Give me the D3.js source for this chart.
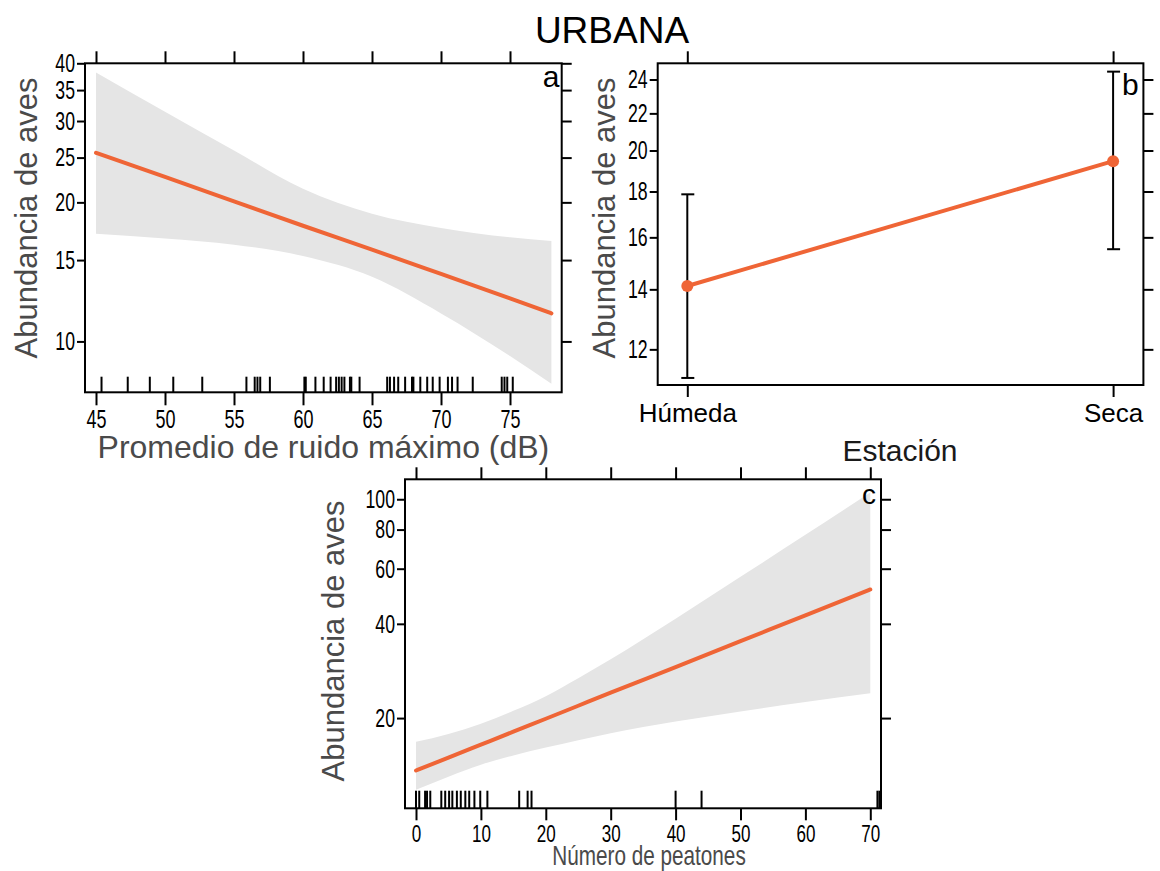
<!DOCTYPE html>
<html>
<head>
<meta charset="utf-8">
<script src="https://cdn.jsdelivr.net/npm/d3@7"></script>
<style>
  html, body { margin: 0; padding: 0; background: #fff; }
  svg { display: block; font-family: "Liberation Sans", Arial, sans-serif; }
</style>
</head>
<body>
<svg id="chart" width="1160" height="871"></svg>
<script>
// ---------------- DATA ----------------
// Panel a: abundance vs mean maximum noise (dB)
const noiseX     = [45, 50, 55, 60, 65, 70, 75, 78];
const noiseFit   = [25.6, 22.7, 20.1, 17.8, 15.8, 14.0, 12.4, 11.5];
const noiseUpper = [38.2, 31.4, 25.9, 21.4, 18.9, 17.6, 16.8, 16.5];
const noiseLower = [17.1, 16.7, 16.2, 15.3, 13.8, 11.5, 9.3, 8.1];
const noiseRug   = [45.4, 47.3, 48.9, 50.6, 52.7, 55.9, 56.5, 56.7, 56.9, 57.6,
                    60.1, 60.2, 60.9, 61.5, 62.0, 62.4, 62.6, 62.8, 63.0, 63.4, 63.5, 64.1,
                    66.1, 66.3, 66.6, 66.9, 67.4, 67.9, 68.0, 68.5, 69.0, 69.4, 69.9,
                    70.5, 70.8, 71.2, 72.3, 74.4, 74.6, 74.8, 75.2];
const noiseXTicks = [45, 50, 55, 60, 65, 70, 75];
const noiseYTicks = [10, 15, 20, 25, 30, 35, 40];

// Panel b: abundance by season
const seasons      = ["Húmeda", "Seca"];
const seasonFit    = [14.12, 19.46];
const seasonLower  = [11.15, 15.52];
const seasonUpper  = [17.87, 24.49];
const seasonYTicks = [12, 14, 16, 18, 20, 22, 24];

// Panel c: abundance vs number of pedestrians
const pedX      = [0, 5, 10, 15, 20, 25, 30, 40, 50, 60, 70];
const pedFit    = [13.6, 14.95, 16.45, 18.1, 19.9, 21.9, 24.1, 29.1, 35.2, 42.6, 51.5];
const pedUpper  = [16.8, 17.8, 19.2, 21.1, 23.5, 26.8, 30.8, 41.5, 56.5, 77, 105];
const pedLower  = [11.8, 13.0, 14.2, 15.2, 16.1, 17.0, 17.9, 19.5, 21.0, 22.5, 24.0];
const pedRug    = [0, 0.5, 1.4, 1.7, 2.2, 3.9, 4.5, 5.1, 5.6, 6.3, 6.9, 7.6, 8.2, 9.0, 9.9, 11.0,
                   15.9, 17.2, 17.8, 40, 44, 71.1, 71.4];
const pedXTicks = [0, 10, 20, 30, 40, 50, 60, 70];
const pedYTicks = [20, 40, 60, 80, 100];

// ---------------- STYLE ----------------
const ORANGE = "#EF6536";
const BAND = "#E5E5E5";
const TITLE_GRAY = "#4a4a4a";
const svg = d3.select("#chart");

function condense(sel, factor) {
  sel.each(function () {
    const w = this.getComputedTextLength();
    d3.select(this).attr("textLength", w * factor).attr("lengthAdjust", "spacingAndGlyphs");
  });
}

function styleAxis(g, fontSize, condenseFactor) {
  g.attr("font-size", fontSize).attr("font-family", "'Liberation Sans', Arial, sans-serif");
  g.select(".domain").remove();
  g.selectAll(".tick line").attr("stroke", "#000").attr("stroke-width", 2);
  g.selectAll(".tick text")
    .attr("fill", "#000")
    .style("font-size", fontSize + "px");
  if (condenseFactor) condense(g.selectAll(".tick text"), condenseFactor);
}

function drawFrame(box) {
  svg.append("rect")
    .attr("x", box.left).attr("y", box.top)
    .attr("width", box.right - box.left).attr("height", box.bottom - box.top)
    .attr("fill", "none").attr("stroke", "#000").attr("stroke-width", 2);
}

function axes(box, x, y, xTicks, yTicks, opts) {
  const gl = svg.append("g").attr("transform", `translate(${box.left},0)`)
    .call(d3.axisLeft(y).tickValues(yTicks).tickFormat(d3.format("d"))
      .tickSize(8).tickSizeOuter(0).tickPadding(2));
  styleAxis(gl, opts.yFont, 0.68);
  const gr = svg.append("g").attr("transform", `translate(${box.right},0)`)
    .call(d3.axisRight(y).tickValues(yTicks).tickFormat("").tickSize(10).tickSizeOuter(0));
  styleAxis(gr, 10);
  const gt = svg.append("g").attr("transform", `translate(0,${box.top})`)
    .call(d3.axisTop(x).tickValues(xTicks).tickFormat("").tickSize(12).tickSizeOuter(0));
  styleAxis(gt, 10);
  const gb = svg.append("g").attr("transform", `translate(0,${box.bottom})`)
    .call(d3.axisBottom(x).tickValues(xTicks).tickFormat(opts.xFormat || d3.format("d"))
      .tickSize(opts.bTick || 12).tickSizeOuter(0).tickPadding(opts.xPad || 7));
  styleAxis(gb, opts.xFont, opts.xCondense);
}

function band(x, y, xs, lo, hi) {
  const area = d3.area()
    .x((d, i) => x(xs[i])).y0((d, i) => y(lo[i])).y1((d, i) => y(hi[i]))
    .curve(d3.curveMonotoneX);
  svg.append("path").datum(xs).attr("d", area).attr("fill", BAND).attr("stroke", "none");
}

function fitLine(x, y, xs, ys) {
  const line = d3.line().x((d, i) => x(xs[i])).y((d, i) => y(ys[i])).curve(d3.curveMonotoneX);
  svg.append("path").datum(xs).attr("d", line)
    .attr("fill", "none").attr("stroke", ORANGE).attr("stroke-width", 4).attr("stroke-linecap", "round");
}

function rug(x, box, vals, h) {
  svg.append("g").selectAll("line").data(vals).join("line")
    .attr("x1", d => x(d)).attr("x2", d => x(d))
    .attr("y1", box.bottom - h).attr("y2", box.bottom)
    .attr("stroke", "#000").attr("stroke-width", 2);
}

function yTitle(xBase, yCenter) {
  svg.append("text")
    .attr("transform", `translate(${xBase},${yCenter}) rotate(-90)`)
    .attr("text-anchor", "middle")
    .attr("fill", TITLE_GRAY)
    .style("font-size", "31px")
    .text("Abundancia de aves");
}

function panelLabel(txt, xEnd, yBase, size) {
  svg.append("text").attr("x", xEnd).attr("y", yBase).attr("text-anchor", "end")
    .attr("fill", "#000").style("font-size", size + "px").text(txt);
}

// ---------------- TITLE ----------------
svg.append("text").attr("x", 612).attr("y", 42.7).attr("text-anchor", "middle")
  .attr("fill", "#000").style("font-size", "37px").text("URBANA");

// ---------------- PANEL A ----------------
{
  const box = { left: 85, right: 561.7, top: 63.3, bottom: 392.3 };
  const x = d3.scaleLinear().domain([44.203, 78.746]).range([box.left, box.right]);
  const y = d3.scaleLog().domain([7.76, 40]).range([box.bottom, box.top]);
  band(x, y, noiseX, noiseLower, noiseUpper);
  fitLine(x, y, noiseX, noiseFit);
  rug(x, box, noiseRug, 15.6);
  drawFrame(box);
  axes(box, x, y, noiseXTicks, noiseYTicks, { yFont: 26, xFont: 25, xCondense: 0.72, bTick: 13, xPad: 5 });
  yTitle(37, 218);
  svg.append("text").attr("x", 323.4).attr("y", 458).attr("text-anchor", "middle")
    .attr("fill", TITLE_GRAY).style("font-size", "32px").text("Promedio de ruido máximo (dB)");
  panelLabel("a", 559.5, 86.5, 30);
}

// ---------------- PANEL B ----------------
{
  const box = { left: 657.7, right: 1143.4, top: 63.3, bottom: 385 };
  const x = d3.scalePoint().domain(seasons).range([687.3, 1113.1]);
  const y = d3.scaleLog().domain([10.95, 25.02]).range([box.bottom, box.top]);
  const pts = seasons.map((s, i) => ({ s, fit: seasonFit[i], lo: seasonLower[i], hi: seasonUpper[i] }));
  svg.append("path").datum(pts)
    .attr("d", d3.line().x(d => x(d.s)).y(d => y(d.fit)))
    .attr("fill", "none").attr("stroke", ORANGE).attr("stroke-width", 4);
  const eb = svg.append("g").selectAll("g").data(pts).join("g");
  eb.append("line").attr("x1", d => x(d.s)).attr("x2", d => x(d.s))
    .attr("y1", d => y(d.lo)).attr("y2", d => y(d.hi)).attr("stroke", "#000").attr("stroke-width", 2);
  eb.append("line").attr("x1", d => x(d.s) - 6).attr("x2", d => x(d.s) + 7)
    .attr("y1", d => y(d.lo)).attr("y2", d => y(d.lo)).attr("stroke", "#000").attr("stroke-width", 2);
  eb.append("line").attr("x1", d => x(d.s) - 6).attr("x2", d => x(d.s) + 7)
    .attr("y1", d => y(d.hi)).attr("y2", d => y(d.hi)).attr("stroke", "#000").attr("stroke-width", 2);
  svg.append("g").selectAll("circle").data(pts).join("circle")
    .attr("cx", d => x(d.s)).attr("cy", d => y(d.fit)).attr("r", 6).attr("fill", ORANGE);
  drawFrame(box);
  axes(box, x, y, seasons, seasonYTicks, { yFont: 26, xFont: 26, xFormat: d => d, bTick: 12, xPad: 7 });
  yTitle(615, 218);
  svg.append("text").attr("x", 900).attr("y", 461).attr("text-anchor", "middle")
    .attr("fill", "#1a1a1a").style("font-size", "30px").text("Estación");
  panelLabel("b", 1138.6, 95, 30);
}

// ---------------- PANEL C ----------------
{
  const box = { left: 405, right: 881, top: 479.3, bottom: 808.3 };
  const x = d3.scaleLinear().domain([-1.695, 71.65]).range([box.left, box.right]);
  const y = d3.scaleLog().domain([10.3, 115.8]).range([box.bottom, box.top]);
  band(x, y, pedX, pedLower, pedUpper);
  fitLine(x, y, pedX, pedFit);
  rug(x, box, pedRug, 17.6);
  drawFrame(box);
  axes(box, x, y, pedXTicks, pedYTicks, { yFont: 26, xFont: 23, xCondense: 0.74, bTick: 12, xPad: 5 });
  yTitle(344, 641);
  const t = svg.append("text").attr("x", 649).attr("y", 865).attr("text-anchor", "middle")
    .attr("fill", TITLE_GRAY).style("font-size", "28px").text("Número de peatones");
  condense(t, 0.74);
  panelLabel("c", 876, 504, 28);
}
</script>
</body>
</html>
